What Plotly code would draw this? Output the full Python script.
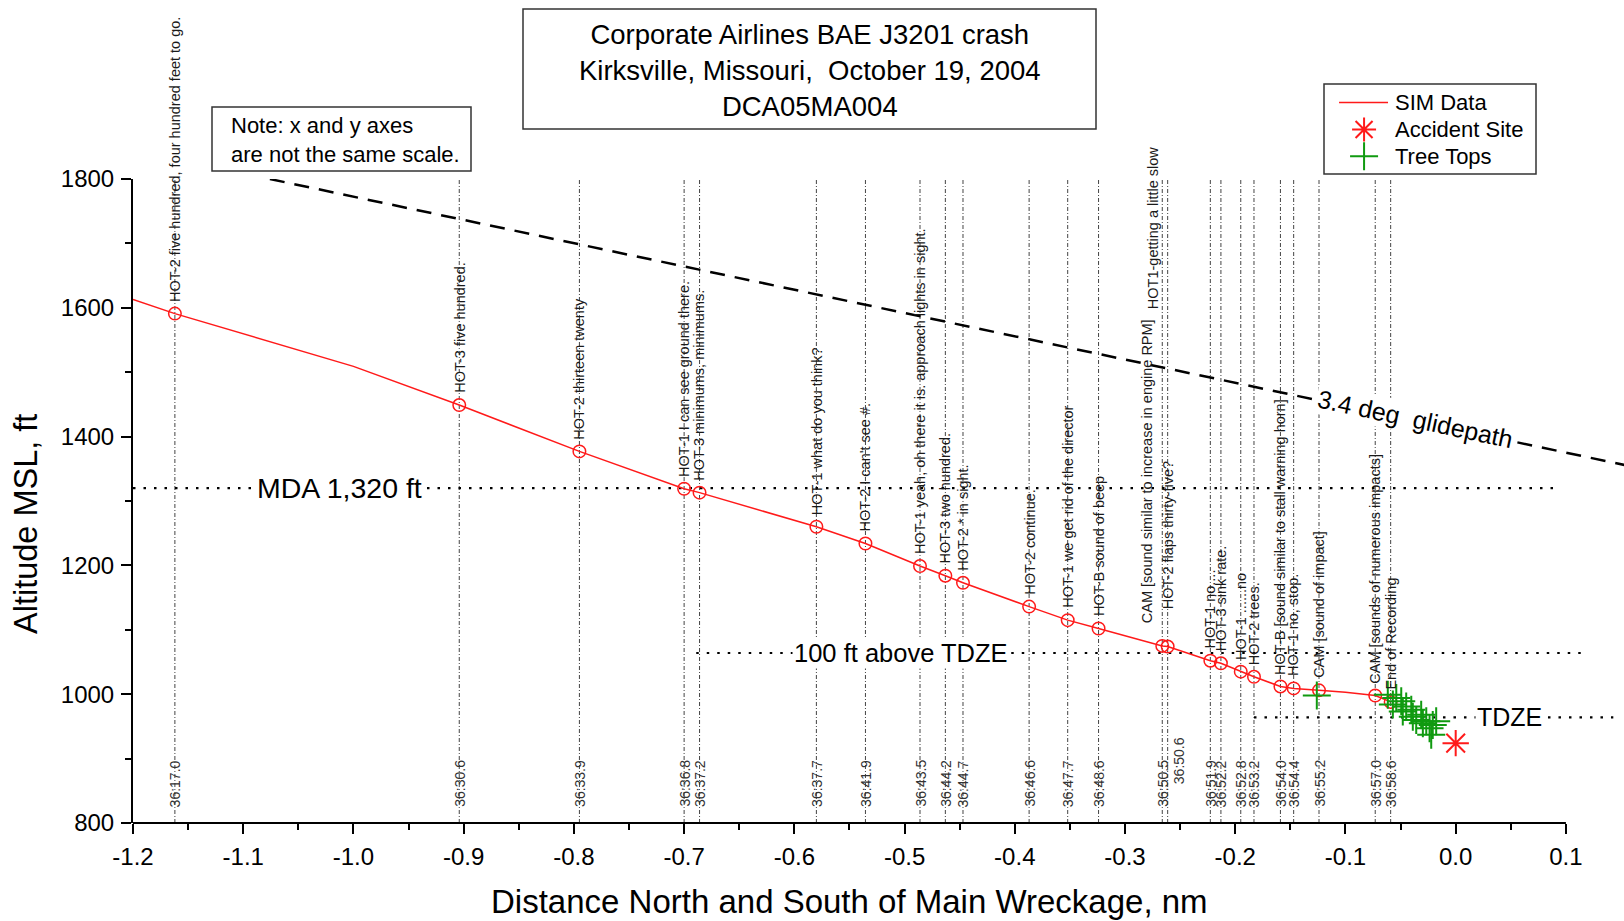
import plotly.graph_objects as go

# ---------------- data ----------------
event_times = ["36:17.0", "36:30.6", "36:33.9", "36:36.8", "36:37.2", "36:37.7", "36:41.9",
               "36:43.5", "36:44.2", "36:44.7", "36:46.6", "36:47.7", "36:48.6", "36:50.5",
               "36:50.6", "36:51.9", "36:52.2", "36:52.8", "36:53.2", "36:54.0", "36:54.4",
               "36:55.2", "36:57.0", "36:58.6"]
event_x = [-1.162, -0.904, -0.795, -0.700, -0.686, -0.580, -0.5355, -0.486, -0.463, -0.447,
           -0.387, -0.352, -0.324, -0.2662, -0.2613, -0.2226, -0.213, -0.195, -0.183, -0.159,
           -0.147, -0.124, -0.073, -0.059]
event_alt = [1591, 1449, 1377, 1319, 1313, 1260, 1234, 1199, 1184, 1173, 1136, 1115, 1102,
             1075, 1074, 1052, 1048, 1035, 1027, 1012, 1009, 1006, 998, 988]
event_text = [
    "HOT-2 five hundred, four hundred feet to go.",
    "HOT-3 five hundred.",
    "HOT-2 thirteen twenty",
    "HOT-1 I can see ground there.",
    "HOT-3 minimums, minimums.",
    "HOT-1 what do you think?",
    "HOT-2 I can't see #.",
    "HOT-1 yeah, oh there it is. approach lights in sight.",
    "HOT-3 two hundred.",
    "HOT-2 * in sight.",
    "HOT-2 continue.",
    "HOT-1 we get rid of the director",
    "HOT-B sound of beep",
    "CAM [sound similar to increase in engine RPM]",
    "HOT-2 flaps thirty-five?",
    "HOT-1 no....",
    "HOT-3 sink rate.",
    "HOT-1 ......no",
    "HOT-2 trees.",
    "HOT-B [sound similar to stall warning horn]",
    "HOT-1 no, stop.",
    "CAM [sound of impact]",
    "CAM [sounds of numerous impacts]",
    "End of Recording",
]
extra_text = "HOT1-getting a little slow"
extra_x = -0.2662
extra_alt = 1596

# SIM data flight path
sim_x = [-1.2, -1.162, -1.0, -0.904, -0.795, -0.700, -0.686, -0.580, -0.5355, -0.486, -0.463,
         -0.447, -0.387, -0.352, -0.324, -0.2662, -0.2613, -0.2226, -0.213, -0.195, -0.183,
         -0.159, -0.147, -0.124, -0.100, -0.073, -0.059]
sim_alt = [1613, 1591, 1509, 1449, 1377, 1319, 1313, 1260, 1234, 1199, 1184, 1173, 1136, 1115,
           1102, 1075, 1074, 1052, 1048, 1035, 1027, 1012, 1009, 1006, 1003, 998, 988]

accident_x = [0.0]
accident_alt = [924]

tree_x = [-0.126, -0.0616, -0.0539, -0.0570, -0.0494, -0.0449, -0.0480, -0.0403, -0.0389,
          -0.0358, -0.0313, -0.0298, -0.0267, -0.0237, -0.0208, -0.0222, -0.0177]
tree_alt = [998, 999, 994, 984, 989, 981, 973, 976, 965, 960, 968, 955, 958, 947, 952, 937, 958]

glide_x = [-1.098, 0.153]
glide_alt = [1808, 1356]

mda_x = [-1.2, 0.094]
mda_alt = 1320
tdze100_x = [-0.689, 0.120]
tdze100_alt = 1064
tdze_x = [-0.183, 0.143]
tdze_alt = 964

x_ticks = [-1.2, -1.1, -1.0, -0.9, -0.8, -0.7, -0.6, -0.5, -0.4, -0.3, -0.2, -0.1, 0.0, 0.1]
x_ticklabels = ["-1.2", "-1.1", "-1.0", "-0.9", "-0.8", "-0.7", "-0.6", "-0.5", "-0.4",
                "-0.3", "-0.2", "-0.1", "0.0", "0.1"]
x_minor = [-1.15, -1.05, -0.95, -0.85, -0.75, -0.65, -0.55, -0.45, -0.35, -0.25, -0.15, -0.05, 0.05]
y_ticks = [800, 1000, 1200, 1400, 1600, 1800]

title_lines = ["Corporate Airlines BAE J3201 crash", "Kirksville, Missouri,  October 19, 2004",
               "DCA05MA004"]
note_lines = ["Note: x and y axes", "are not the same scale."]
legend_names = ["SIM Data", "Accident Site", "Tree Tops"]

# ---------------- layout helpers (pixel -> paper) ----------------
W, H = 1624, 921


def px(v):
    return v / W


def py(v):
    return 1 - v / H


FONT = "Liberation Sans, Arial, Helvetica, sans-serif"
RED = "#ff1a1a"
GREEN = "#109a10"
VLINE = "#444444"

fig = go.Figure()

# vertical event lines
vx, vy = [], []
for xv in event_x:
    vx += [xv, xv, None]
    vy += [800, 1800, None]
fig.add_trace(go.Scatter(x=vx, y=vy, mode="lines", showlegend=False, hoverinfo="skip",
                         line=dict(color=VLINE, width=1, dash="4px,2px,1px,2px")))

# horizontal reference lines
for xs, a in [(mda_x, mda_alt), (tdze100_x, tdze100_alt), (tdze_x, tdze_alt)]:
    fig.add_trace(go.Scatter(x=xs, y=[a, a], mode="lines", showlegend=False, hoverinfo="skip",
                             line=dict(color="black", width=2.2, dash="2.5px,8px")))

# glidepath
fig.add_trace(go.Scatter(x=glide_x, y=glide_alt, mode="lines", showlegend=False,
                         hoverinfo="skip", line=dict(color="black", width=2.5, dash="15px,10px")))

# SIM data
line_style = dict(color=RED, width=1.5)
star_marker = dict(symbol="asterisk", size=22, color=RED, line=dict(color=RED, width=2))
tree_marker = dict(symbol="cross-thin", size=20, color=GREEN, line=dict(color=GREEN, width=2))

fig.add_trace(go.Scatter(x=sim_x, y=sim_alt, mode="lines", name="SIM Data",
                         showlegend=False, line=line_style))
fig.add_trace(go.Scatter(x=event_x, y=event_alt, mode="markers", showlegend=False,
                         marker=dict(symbol="circle-open", size=12.5, color=RED,
                                     line=dict(color=RED, width=1.5))))
fig.add_trace(go.Scatter(x=accident_x, y=accident_alt, mode="markers", name="Accident Site",
                         showlegend=False, marker=star_marker))
fig.add_trace(go.Scatter(x=tree_x, y=tree_alt, mode="markers", name="Tree Tops",
                         showlegend=False, marker=tree_marker))

# ---- legend (drawn in its own small axes box) ----
leg_rows = [0.794, 0.494, 0.196]
fig.add_trace(go.Scatter(x=[0.071, 0.302], y=[leg_rows[0], leg_rows[0]], mode="lines",
                         xaxis="x2", yaxis="y2", showlegend=False, hoverinfo="skip",
                         line=line_style))
fig.add_trace(go.Scatter(x=[0.189], y=[leg_rows[1]], mode="markers", xaxis="x2", yaxis="y2",
                         showlegend=False, hoverinfo="skip", cliponaxis=False,
                         marker=dict(star_marker, size=20)))
fig.add_trace(go.Scatter(x=[0.189], y=[leg_rows[2]], mode="markers", xaxis="x2", yaxis="y2",
                         showlegend=False, hoverinfo="skip", cliponaxis=False,
                         marker=tree_marker))

annotations = []
for name, r in zip(legend_names, leg_rows):
    annotations.append(dict(xref="x2", yref="y2", x=0.325, y=r, text=name, showarrow=False,
                            xanchor="left", yanchor="middle",
                            font=dict(family=FONT, size=22, color="black")))

# event labels
special = {13: (-15, 22), 14: (0, 36)}
for i, (xv, a, t) in enumerate(zip(event_x, event_alt, event_text)):
    xs, ys = special.get(i, (0, 11))
    annotations.append(dict(x=xv, y=a, text=t, textangle=-90, showarrow=False,
                            xanchor="center", yanchor="bottom", xshift=xs, yshift=ys,
                            borderpad=0, font=dict(family=FONT, size=14.5, color="#1a1a1a")))
annotations.append(dict(x=extra_x, y=extra_alt, text=extra_text, textangle=-90, showarrow=False,
                        xanchor="center", yanchor="bottom", xshift=-9, borderpad=0,
                        font=dict(family=FONT, size=14.5, color="#1a1a1a")))
# time labels
for i, (xv, t) in enumerate(zip(event_x, event_times)):
    xs, ys = (11, 38) if i == 14 else (0, 15)
    annotations.append(dict(x=xv, y=800, text=t, textangle=-90, showarrow=False,
                            xanchor="center", yanchor="bottom", xshift=xs, yshift=ys,
                            borderpad=0, font=dict(family=FONT, size=14, color="#333")))

# reference line labels
annotations += [
    dict(x=-1.013, y=mda_alt, text="MDA 1,320 ft", showarrow=False, bgcolor="white",
         font=dict(family=FONT, size=28.5, color="black")),
    dict(x=-0.503, y=tdze100_alt, text="100 ft above TDZE", showarrow=False, bgcolor="white",
         font=dict(family=FONT, size=25.5, color="black")),
    dict(x=0.049, y=tdze_alt, text="TDZE", showarrow=False, bgcolor="white",
         font=dict(family=FONT, size=25, color="black")),
    dict(x=-0.0364, y=1428, text="3.4 deg  glidepath", textangle=12, showarrow=False,
         bgcolor="white", font=dict(family=FONT, size=25, color="black")),
]

# title & note
annotations.append(dict(xref="paper", yref="paper", x=px(809.5), y=py(70.5),
                        text="<br>".join(title_lines), showarrow=False,
                        xanchor="center", yanchor="middle", align="center",
                        font=dict(family=FONT, size=27.5, color="black")))
annotations.append(dict(xref="paper", yref="paper", x=px(229), y=py(140),
                        text="<br>".join(note_lines), showarrow=False,
                        xanchor="left", yanchor="middle", align="left",
                        font=dict(family=FONT, size=22, color="black")))

# axis titles
annotations.append(dict(xref="paper", yref="paper", x=px(26), y=py(524), text="Altitude MSL, ft",
                        textangle=-90, showarrow=False, xanchor="center", yanchor="middle",
                        font=dict(family=FONT, size=32.5, color="black")))
annotations.append(dict(xref="paper", yref="paper", x=px(849), y=py(901),
                        text="Distance North and South of Main Wreckage, nm",
                        showarrow=False, xanchor="center", yanchor="middle",
                        font=dict(family=FONT, size=33, color="black")))

box_line = dict(color="#333", width=1.5)
shapes = [
    dict(type="rect", xref="paper", yref="paper", x0=px(523), x1=px(1096), y0=py(129), y1=py(9),
         line=box_line, fillcolor="white", layer="below"),
    dict(type="rect", xref="paper", yref="paper", x0=px(212), x1=px(471), y0=py(171), y1=py(107),
         line=box_line, fillcolor="white", layer="below"),
    dict(type="rect", xref="paper", yref="paper", x0=px(1324), x1=px(1536), y0=py(174), y1=py(84),
         line=box_line, fillcolor="white", layer="below"),
    dict(type="line", xref="x", yref="paper", x0=-1.2, x1=0.1, y0=py(823), y1=py(823),
         line=dict(color="black", width=2)),
]

fig.update_layout(
    width=W, height=H,
    margin=dict(l=0, r=0, t=0, b=0),
    paper_bgcolor="white", plot_bgcolor="rgba(0,0,0,0)",
    font=dict(family=FONT, color="black"),
    showlegend=False,
    annotations=annotations,
    shapes=shapes,
    xaxis=dict(domain=[px(133), 1.0], range=[-1.2, 0.1527], automargin=False,
               showgrid=False, zeroline=False, showline=False,
               tickmode="array", tickvals=x_ticks, ticktext=x_ticklabels,
               ticks="outside", ticklen=10, tickwidth=2, tickcolor="black",
               ticklabelstandoff=2,
               tickfont=dict(family=FONT, size=24, color="black"),
               minor=dict(tickmode="array", tickvals=x_minor, ticks="outside", ticklen=6,
                          tickwidth=2, tickcolor="black")),
    yaxis=dict(domain=[py(823), py(179)], range=[800, 1800], automargin=False,
               showgrid=False, zeroline=False, showline=True,
               linecolor="black", linewidth=2,
               tickmode="array", tickvals=y_ticks,
               ticks="outside", ticklen=10, tickwidth=2, tickcolor="black",
               ticklabelstandoff=2,
               tickfont=dict(family=FONT, size=24, color="black"),
               minor=dict(dtick=100, ticks="outside", ticklen=6, tickwidth=2,
                          tickcolor="black")),
    xaxis2=dict(domain=[px(1324), px(1536)], range=[0, 1], anchor="y2", visible=False,
                fixedrange=True),
    yaxis2=dict(domain=[py(174), py(84)], range=[0, 1], anchor="x2", visible=False,
                fixedrange=True),
)

fig.write_html("out.html", config={"displayModeBar": False},
               post_script="document.body.style.margin='0px';document.body.style.overflow='hidden';")
